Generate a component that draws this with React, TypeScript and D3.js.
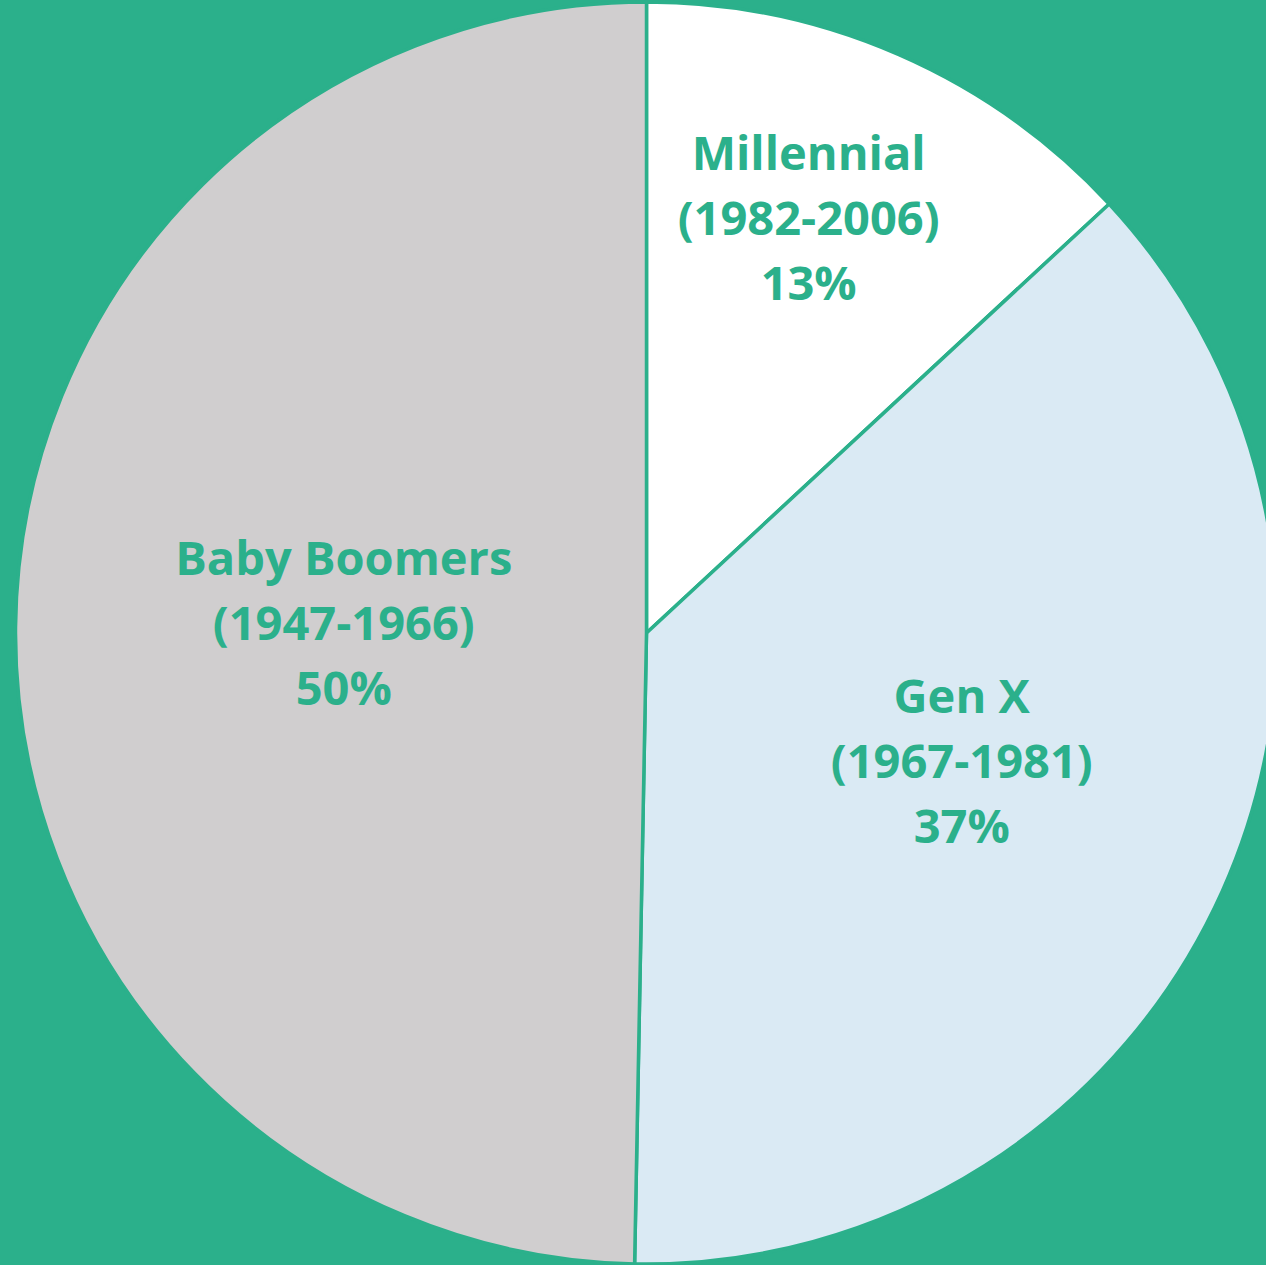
import React, { useEffect, useRef } from 'react';
import * as d3 from 'd3';

// Generation share data
const generations = ['Millennial', 'Gen X', 'Baby Boomers'];
const birthYears = ['(1982-2006)', '(1967-1981)', '(1947-1966)'];
const shares = [13.1, 37.2, 49.7];
const shareLabels = ['13%', '37%', '50%'];

const W = 1266;
const H = 1265;
const BG = '#2bb08b';
const COLORS = ['#ffffff', '#daeaf4', '#d0cecf'];

const App = () => {
  const ref = useRef<SVGSVGElement>(null);

  useEffect(() => {
    if (!ref.current) return;
    const svg = d3.select(ref.current);
    svg.selectAll('*').remove();

    const cx = 646.5;
    const cy = 633;
    const r = 631;

    svg.append('rect').attr('width', W).attr('height', H).attr('fill', BG);

    const g = svg.append('g').attr('transform', `translate(${cx},${cy})`);

    const pie = d3.pie<number>().sort(null).value(d => d);
    const arcs = pie(shares);
    const arc = d3.arc<d3.PieArcDatum<number>>().innerRadius(0).outerRadius(r);

    g.selectAll('path.slice')
      .data(arcs)
      .enter()
      .append('path')
      .attr('class', 'slice')
      .attr('d', arc)
      .attr('fill', (d, i) => COLORS[i])
      .attr('stroke', BG)
      .attr('stroke-width', 3.5)
      .attr('stroke-linejoin', 'round');

    // label distance from centre, as fraction of radius (Excel-like placement)
    const labelFrac = [0.705, 0.54, 0.48];
    const labelShift = [-2.2, -1.8, 1.2]; // degrees

    arcs.forEach((d, i) => {
      const mid = (d.startAngle + d.endAngle) / 2 + (labelShift[i] * Math.PI) / 180;
      const lr = r * labelFrac[i];
      const lx = lr * Math.sin(mid);
      const ly = -lr * Math.cos(mid);
      const lines = [generations[i], birthYears[i], shareLabels[i]];
      const t = g.append('text')
        .attr('text-anchor', 'middle')
        .attr('fill', BG)
        .style('font-family', '"Open Sans", "Liberation Sans", sans-serif')
        .style('font-weight', 700)
        .style('font-size', '47px');
      lines.forEach((ln, k) => {
        t.append('tspan')
          .attr('x', lx)
          .attr('y', ly + (k - 1) * 65 + 16)
          .text(ln);
      });
    });
  }, []);

  return (
    <div style={{ position: 'absolute', left: 0, top: 0, width: W, height: H, overflow: 'hidden' }}>
      <svg ref={ref} width={W} height={H} style={{ display: 'block' }} />
    </div>
  );
};

export default App;
